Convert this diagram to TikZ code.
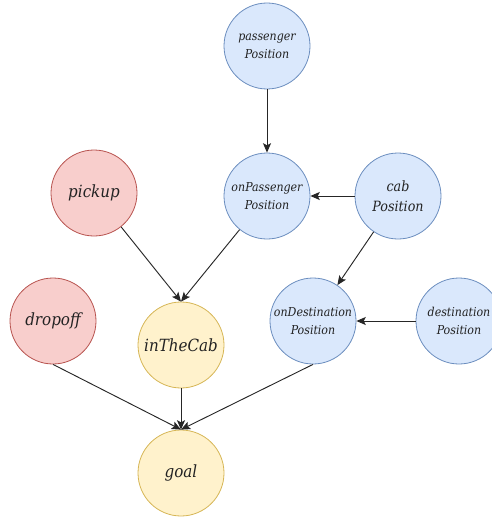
\documentclass[tikz,border=0pt]{standalone}
\usepackage{fontspec}
\setmainfont{DejaVu Serif Condensed}
\usetikzlibrary{arrows.meta}
\definecolor{bfill}{HTML}{DAE8FC}\definecolor{bdraw}{HTML}{6C8EBF}
\definecolor{rfill}{HTML}{F8CECC}\definecolor{rdraw}{HTML}{B85450}
\definecolor{yfill}{HTML}{FFF2CC}\definecolor{ydraw}{HTML}{D6B656}
\definecolor{txt}{HTML}{222222}
\begin{document}
\begin{tikzpicture}[x=0.75pt,y=-0.75pt,
  var/.style={circle,minimum size=86*0.75pt,inner sep=0pt,line width=0.6pt,align=center,text=txt,font=\itshape},
  blue/.style={var,fill=bfill,draw=bdraw},
  red/.style={var,fill=rfill,draw=rdraw},
  yel/.style={var,fill=yfill,draw=ydraw},
  small/.style={font=\itshape\fontsize{9.2pt}{13.5pt}\selectfont},
  mid/.style={font=\itshape\fontsize{10.6pt}{15pt}\selectfont},
  big/.style={font=\itshape\fontsize{12.6pt}{14pt}\selectfont},
  edge/.style={draw=black!85,line width=0.7pt,-{Stealth[length=7pt,width=6pt,inset=1.5pt]}}]
\useasboundingbox (0,0) rectangle (492,517);
\clip (0,0) rectangle (492,517);
\node[blue,small] (pp) at (267,46) {passenger\\Position};
\node[blue,small] (op) at (267,196) {onPassenger\\Position};
\node[blue,mid] (cp) at (398,196) {cab\\Position};
\node[red,big] (pk) at (94,193) {pickup};
\node[red,big] (dr) at (53,321) {dropoff};
\node[yel,big] (ic) at (181,345) {inTheCab};
\node[blue,small] (od) at (313,321) {onDestination\\Position};
\node[blue,small] (dp) at (459,321) {destination\\Position};
\node[yel,big] (gl) at (181,473) {goal};
\draw[edge] (pp) -- (op);
\draw[edge] (cp) -- (op);
\draw[edge] (cp) -- (od);
\draw[edge] (dp) -- (od);
\draw[edge] (pk) -- (ic.north);
\draw[edge] (op) -- (ic.north);
\draw[edge] (ic) -- (gl);
\draw[edge] (dr.south) -- (gl.north);
\draw[edge] (od.south) -- (gl.north);
\end{tikzpicture}
\end{document}
